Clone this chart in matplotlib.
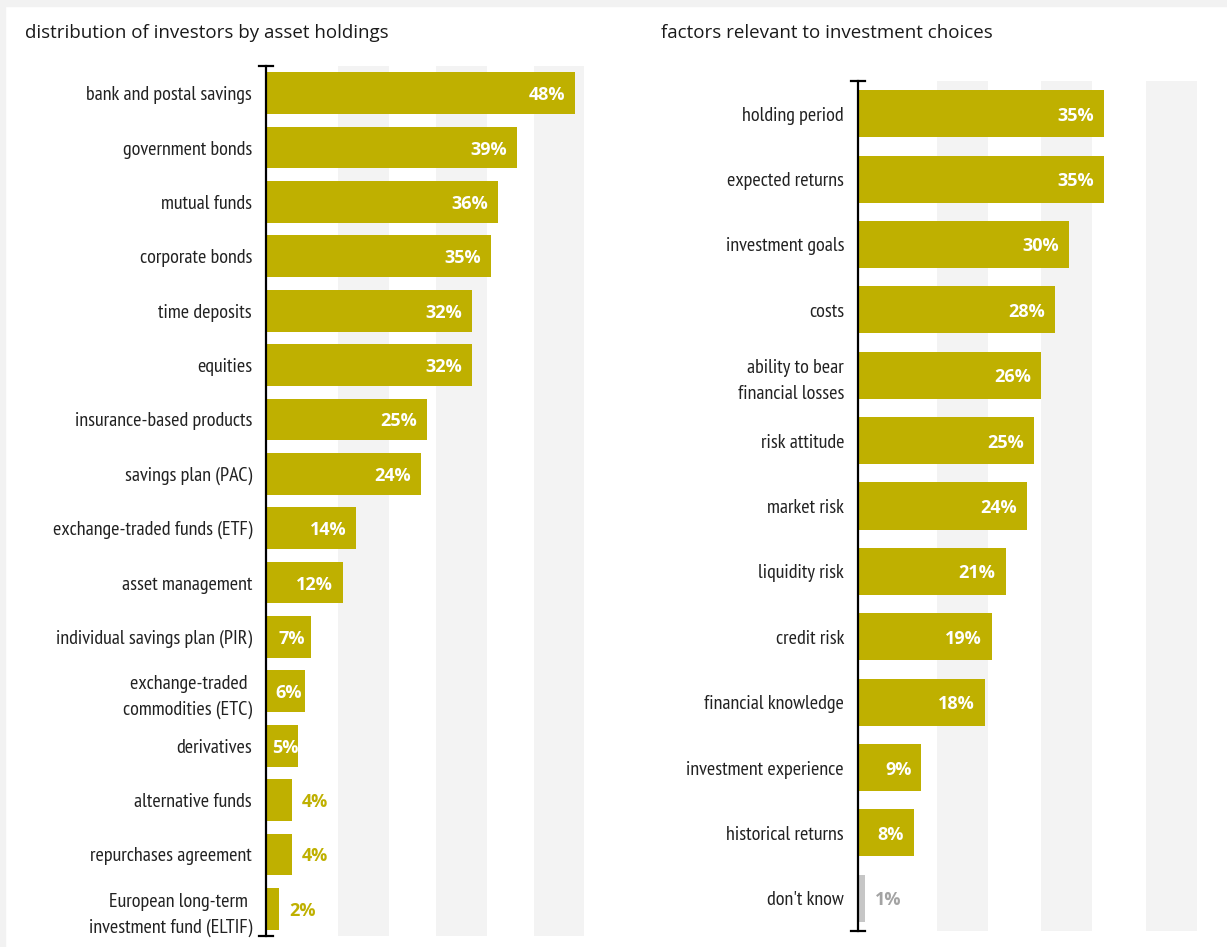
import matplotlib.pyplot as plt
from matplotlib import font_manager
from matplotlib.lines import Line2D
from matplotlib.patches import Rectangle

W, H = 1227, 947

left_title = "distribution of investors by asset holdings"
left_cats = ["bank and postal savings", "government bonds", "mutual funds",
             "corporate bonds", "time deposits", "equities",
             "insurance-based products", "savings plan (PAC)",
             "exchange-traded funds (ETF)", "asset management",
             "individual savings plan (PIR)", "exchange-traded \ncommodities (ETC)",
             "derivatives", "alternative funds", "repurchases agreement",
             "European long-term \ninvestment fund (ELTIF)"]
left_vals = [48, 39, 36, 35, 32, 32, 25, 24, 14, 12, 7, 6, 5, 4, 4, 2]

right_title = "factors relevant to investment choices"
right_cats = ["holding period", "expected returns", "investment goals", "costs",
              "ability to bear\nfinancial losses", "risk attitude", "market risk",
              "liquidity risk", "credit risk", "financial knowledge",
              "investment experience", "historical returns", "don't know"]
right_vals = [35, 35, 30, 28, 26, 25, 24, 21, 19, 18, 9, 8, 1]

OLIVE = "#bfb000"
GREY_BAR = "#c6c6c6"
GREY_TXT = "#a3a3a3"
BAND = "#f3f3f3"

names = {f.name for f in font_manager.fontManager.ttflist}
narrow = "DejaVu Sans"
for cand in ["PT Sans Narrow", "Roboto Condensed", "Liberation Sans Narrow", "Roboto"]:
    if cand in names:
        narrow = cand
        break

fig = plt.figure(figsize=(W / 100, H / 100), dpi=100)
fig.patches.append(Rectangle((0, 1 - 6 / H), 1, 6 / H, transform=fig.transFigure,
                             color="#f2f2f2", zorder=0))
fig.patches.append(Rectangle((0, 0), 5 / W, 1, transform=fig.transFigure,
                             color="#f2f2f2", zorder=0))


def panel(x0, x1, y0, y1, px_per, cats, vals, bands, title, title_x):
    ax = fig.add_axes([x0 / W, 1 - y1 / H, (x1 - x0) / W, (y1 - y0) / H])
    n = len(cats)
    colors = [GREY_BAR if c == "don't know" else OLIVE for c in cats]
    ax.barh(range(n), vals, height=0.72 if n < 14 else 0.77, color=colors, zorder=2)
    ax.set_xlim(0, (x1 - x0) / px_per)
    ax.set_ylim(n - 0.5, -0.5)
    for b0, b1 in bands:
        ax.axvspan(b0, b1, color=BAND, lw=0, zorder=0)
    ax.set_yticks(range(n))
    ax.set_yticklabels(cats, fontfamily=narrow, fontsize=14.5, color="#222222",
                       linespacing=1.55)
    ax.tick_params(axis="y", length=0, pad=10)
    ax.set_xticks([])
    for s in ["top", "right", "bottom"]:
        ax.spines[s].set_visible(False)
    ax.spines["left"].set_linewidth(1.6)
    ax.spines["left"].set_color("black")
    ax.spines["left"].set_zorder(3)

    lab = dict(va="center_baseline", fontsize=13, fontweight="bold", family="Open Sans",
               zorder=4, textcoords="offset pixels")
    for i, (c, v) in enumerate(zip(cats, vals)):
        if v < 5:
            col = GREY_TXT if c == "don't know" else OLIVE
            ax.annotate(f"{v}%", (v, i), xytext=(10, 0), ha="left", color=col, **lab)
        elif v * px_per < 50:
            # short bars: label sits roughly in the middle of the bar
            ax.annotate(f"{v}%", (v / 2, i), xytext=(3, 0), ha="center",
                        color="white", **lab)
        else:
            ax.annotate(f"{v}%", (v, i), xytext=(-10, 0), ha="right",
                        color="white", **lab)

    # caps on the axis line
    for y in (y0, y1):
        fig.add_artist(Line2D([(x0 - 7) / W, (x0 + 7) / W], [1 - y / H, 1 - y / H],
                              transform=fig.transFigure, color="black", lw=1.6))

    fig.text(title_x / W, 1 - 33 / H, title, fontsize=13.5, family="Open Sans",
             color="#1a1a1a", va="center", ha="left")
    return ax


panel(266, 600, 66, 936, 6.44, left_cats, left_vals,
      [(11.2, 19.1), (26.4, 34.3), (41.6, 49.4)], left_title, 25)
panel(858, 1210, 81, 931, 7.03, right_cats, right_vals,
      [(11.2, 18.5), (26.0, 33.3), (41.0, 48.2)], right_title, 661)

fig.savefig("out.png", dpi=100)
